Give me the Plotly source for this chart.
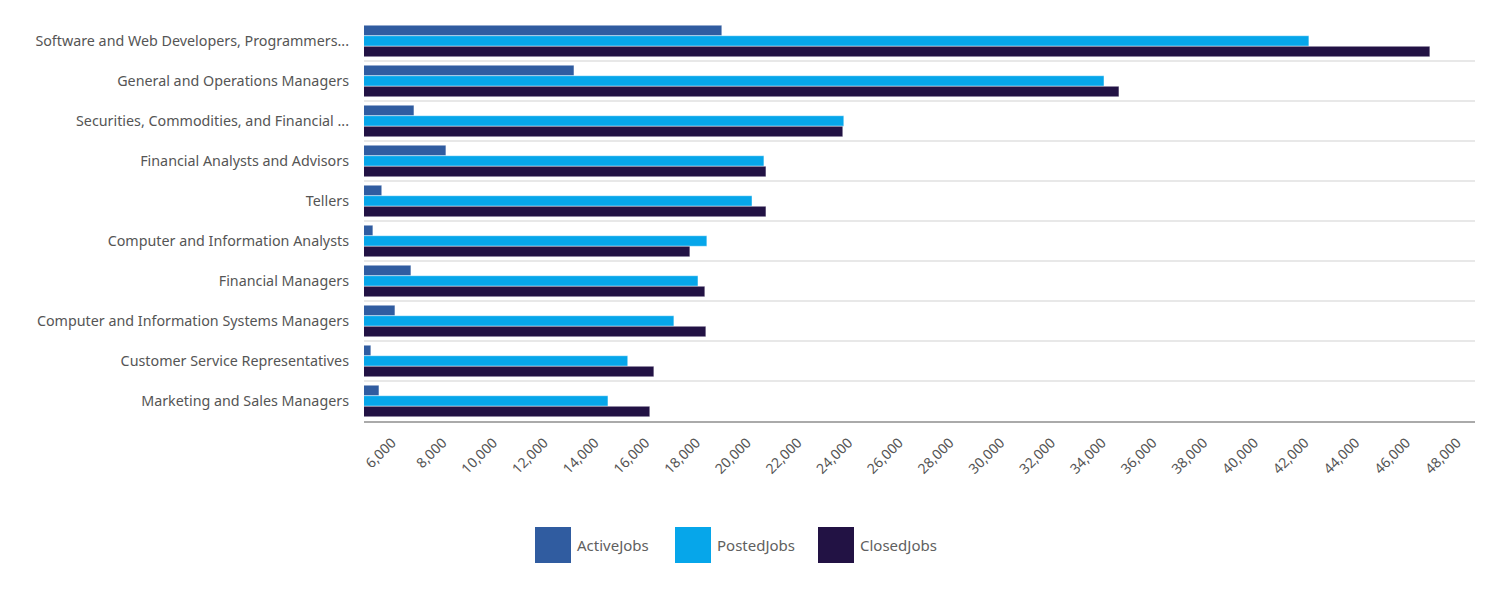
import plotly.graph_objects as go

categories = [
    "Software and Web Developers, Programmers...",
    "General and Operations Managers",
    "Securities, Commodities, and Financial ...",
    "Financial Analysts and Advisors",
    "Tellers",
    "Computer and Information Analysts",
    "Financial Managers",
    "Computer and Information Systems Managers",
    "Customer Service Representatives",
    "Marketing and Sales Managers",
]
active_jobs = [19010, 13180, 6870, 8130, 5600, 5250, 6750, 6120, 5170, 5490]
posted_jobs = [42160, 34080, 23820, 20670, 20200, 18420, 18070, 17120, 15300, 14520]
closed_jobs = [46930, 34670, 23780, 20750, 20750, 17750, 18340, 18380, 16330, 16170]

series = [
    ("ActiveJobs", active_jobs, "#305ca0"),
    ("PostedJobs", posted_jobs, "#06a6ea"),
    ("ClosedJobs", closed_jobs, "#221244"),
]

FONT = "Noto Sans"
TXT = "#555555"

fig = go.Figure()
for name, vals, col in series:
    fig.add_trace(go.Bar(
        y=categories, x=vals, name=name, orientation="h",
        marker=dict(color=col, line=dict(color="rgba(255,255,255,0.45)", width=1)),
        showlegend=False,
    ))

# page offset (body margin) and plot area in page pixels
OFF = 8
FW, FH = 1498 - 2 * OFF, 600 - 2 * OFF
L, R, T, B = 364, 1475, 21, 421
W, H = R - L, B - T
def px(x):
    return (x - L) / W
def py(y):
    return (B - y) / H

def rounded(x0, y0, x1, y1, r):
    return (f"M {x0+r},{y0} L {x1-r},{y0} Q {x1},{y0} {x1},{y0+r} "
            f"L {x1},{y1-r} Q {x1},{y1} {x1-r},{y1} L {x0+r},{y1} "
            f"Q {x0},{y1} {x0},{y1-r} L {x0},{y0+r} Q {x0},{y0} {x0+r},{y0} Z")

legend_x = [535, 675, 818]
for (name, vals, col), lx in zip(series, legend_x):
    fig.add_shape(type="path", xref="paper", yref="paper",
                  path=rounded(px(lx), py(527), px(lx + 36), py(563), 0),
                  fillcolor=col, line=dict(width=0), layer="above")
    fig.add_annotation(xref="paper", yref="paper", x=px(lx + 40), y=py(545),
                       text=name, showarrow=False, xanchor="left", yanchor="middle",
                       font=dict(family=FONT, size=15, color="#606060"))

fig.update_layout(
    width=FW, height=FH,
    margin=dict(l=L - OFF, r=FW + OFF - R, t=T - OFF, b=FH + OFF - B),
    barmode="group", bargap=0.21, bargroupgap=0.0,
    plot_bgcolor="white", paper_bgcolor="white",
    font=dict(family=FONT, size=14, color=TXT),
)
fig.update_yaxes(
    autorange="reversed", tickson="boundaries", showgrid=True,
    gridcolor="#e8e8e8", gridwidth=2, ticks="", ticklabelstandoff=14,
    tickfont=dict(family=FONT, size=14.3, color=TXT), showline=False, zeroline=False,
)
fig.update_xaxes(
    range=[4900, 48710], dtick=2000, tick0=0, tickformat=",", tickangle=-45,
    showgrid=False, zeroline=False, showline=True, linecolor="#aaaaaa", linewidth=2,
    tickfont=dict(family=FONT, size=14, color=TXT), ticks="", ticklabelstandoff=6,
)

fig.write_html("out.html")
